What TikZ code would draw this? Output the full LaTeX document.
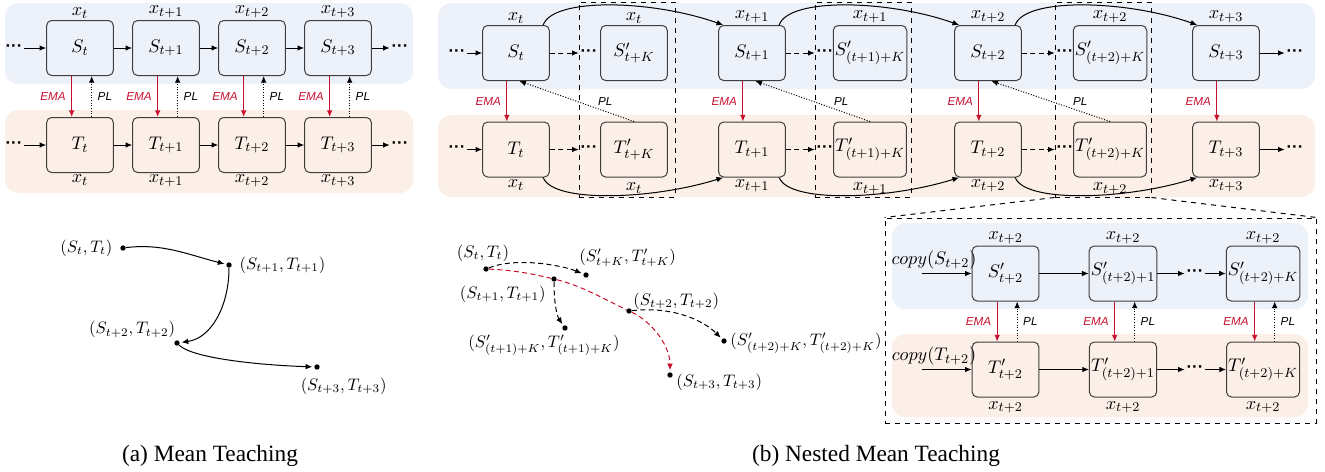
\documentclass[tikz,border=0pt]{standalone}
\usepackage{fontspec}
\setsansfont{Liberation Sans}
\newfontfamily\capfont{Liberation Serif}
\usetikzlibrary{positioning, arrows.meta, calc}
\definecolor{stubg}{HTML}{EDF1F9}
\definecolor{teabg}{HTML}{FCEFE7}
\definecolor{boxline}{HTML}{3F3F3F}
\definecolor{emared}{HTML}{C8102E}
\tikzset{
  stu/.style={draw=boxline, line width=0.6pt, rounded corners=3pt, fill=stubg, minimum width=40pt, minimum height=33pt, inner sep=1pt, font=\fontsize{11}{13}\selectfont},
  tea/.style={stu, fill=teabg},
  xlab/.style={inner sep=1pt, font=\fontsize{11}{13}\selectfont},
  arr/.style={-{Latex[length=4pt, width=3.4pt]}, line width=0.6pt},
  dasharr/.style={arr, densely dashed},
  ema/.style={arr, draw=emared},
  pl/.style={arr, densely dotted},
  emalab/.style={font=\sffamily\itshape\fontsize{7}{8}\selectfont, text=emared},
  pllab/.style={font=\sffamily\itshape\fontsize{7}{8}\selectfont},
  dts/.style={font=\sffamily\bfseries, inner sep=1pt},
  zoomframe/.style={draw, dashed, line width=0.6pt},
  pnt/.style={circle, fill, inner sep=0pt, minimum size=3.2pt},
  glab/.style={font=\fontsize{10.3}{12}\selectfont},
  caption/.style={font=\capfont\fontsize{14}{16}\selectfont},
}
\begin{document}
\begin{tikzpicture}[x=0.6pt, y=-0.6pt]
  \useasboundingbox (0,0) rectangle (1325,471);

  % (a) mean teaching: student row on blue, teacher row on orange
  \fill[stubg, rounded corners=8pt] (5,3) rectangle (413,84);
  \fill[teabg, rounded corners=8pt] (5,110) rectangle (413,193);
  \foreach \i/\x/\s in {0/80/t, 1/166/{t+1}, 2/252/{t+2}, 3/338/{t+3}} {
    \node[stu] (aS\i) at (\x,48) {$S_{\s}$};
    \node[tea] (aT\i) at (\x,145) {$T_{\s}$};
    \node[xlab, above=0pt of aS\i] (aSx\i) {$x_{\s}$};
    \node[xlab, below=0pt of aT\i] (aTx\i) {$x_{\s}$};
    \draw[ema] ([xshift=-5pt]aS\i.south) -- node[emalab, left] (aE\i) {EMA} ([xshift=-5pt]aT\i.north);
    \draw[pl] ([xshift=7pt]aT\i.north) -- node[pllab, right] (aP\i) {PL} ([xshift=7pt]aS\i.south);
  }
  \foreach \i [count=\j] in {0,1,2} {
    \draw[arr] (aS\i) -- (aS\j);
    \draw[arr] (aT\i) -- (aT\j);
  }
  \node[dts] (aSl) at (14,48) {···};
  \node[dts] (aTl) at (14,145) {···};
  \node[dts] (aSr) at (400,48) {···};
  \node[dts] (aTr) at (400,145) {···};
  \draw[arr] (aSl) -- (aS0);
  \draw[arr] (aTl) -- (aT0);
  \draw[arr] (aS3) -- (aSr);
  \draw[arr] (aT3) -- (aTr);

  % (a) trajectory of (S,T) pairs
  \node[pnt] (g0) at (123,248) {};
  \node[pnt] (g1) at (229,265) {};
  \node[pnt] (g2) at (177,343) {};
  \node[pnt] (g3) at (317,367) {};
  \node[left=1pt of g0] (g0l) {$(S_t,T_t)$};
  \node[right=1pt of g1] (g1l) {$(S_{t+1},T_{t+1})$};
  \node[anchor=south east, inner sep=1pt] (g2l) at (g2.north) {$(S_{t+2},T_{t+2})$};
  \node[below=1pt of g3, xshift=16pt] (g3l) {$(S_{t+3},T_{t+3})$};
  \draw[arr, shorten >=1pt] (g0) .. controls +(40,-5) and +(-40,-10) .. (g1);
  \draw[arr, shorten >=1pt] (g1) .. controls +(0,40) and +(35,-5) .. (g2);
  \draw[arr, shorten >=1pt] (g2) .. controls +(15,15) and +(-60,-2) .. (g3);

  % (b) nested mean teaching
  \fill[stubg, rounded corners=8pt] (438,3) rectangle (1315,89);
  \fill[teabg, rounded corners=8pt] (438,115) rectangle (1315,197);
  \foreach \i/\x/\s in {0/516/t, 1/752/{t+1}, 2/988/{t+2}, 3/1226/{t+3}} {
    \node[stu] (bS\i) at (\x,53) {$S_{\s}$};
    \node[tea] (bT\i) at (\x,149.5) {$T_{\s}$};
    \node[xlab, above=0pt of bS\i] (bSx\i) {$x_{\s}$};
    \node[xlab, below=0pt of bT\i] (bTx\i) {$x_{\s}$};
    \draw[ema] ([xshift=-5.5pt]bS\i.south) -- node[emalab, left] (bE\i) {EMA} ([xshift=-5.5pt]bT\i.north);
  }
  \foreach \i/\x/\s/\r in {0/634/{t+K}/t, 1/870/{(t+1)+K}/{t+1}, 2/1110/{(t+2)+K}/{t+2}} {
    \node[stu] (bSp\i) at (\x,53) {$S'_{\s}$};
    \node[tea] (bTp\i) at (\x,149.5) {$T'_{\s}$};
    \node[xlab, above=0pt of bSp\i] (bSpx\i) {$x_{\r}$};
    \node[xlab, below=2pt of bTp\i] (bTpx\i) {$x_{\r}$};
    \node[dts] (bSd\i) at ({\x-45},53) {···};
    \node[dts] (bTd\i) at ({\x-45},149.5) {···};
    \node[zoomframe, minimum width=57.6pt, minimum height=117pt] (bF\i) at ({\x-7},99.5) {};
    \draw[dasharr] (bS\i) -- (bSd\i);
    \draw[dasharr] (bT\i) -- (bTd\i);
    \draw[pl] (bTp\i.north) -- node[pllab, pos=0.25, above] (bP\i) {PL} ([xshift=2pt]bS\i.south);
  }
  \foreach \i [count=\j] in {0,1,2} {
    \draw[arr] ([xshift=-4pt]bS\i.north east) .. controls +(10,-28) and +(-70,-25) .. ([xshift=3pt]bS\j.north west);
    \draw[arr] ([xshift=-4pt]bT\i.south east) .. controls +(10,26) and +(-70,22) .. ([xshift=3pt]bT\j.south west);
  }
  \node[dts] (bSl) at (457,53) {···};
  \node[dts] (bTl) at (457,149.5) {···};
  \node[dts] (bSr) at (1295,53) {···};
  \node[dts] (bTr) at (1295,149.5) {···};
  \draw[arr] (bSl) -- (bS0);
  \draw[arr] (bTl) -- (bT0);
  \draw[arr] (bS3) -- (bSr);
  \draw[arr] (bT3) -- (bTr);

  % inner loop of the third window, zoomed
  \fill[stubg, rounded corners=8pt] (892,223) rectangle (1308,309);
  \fill[teabg, rounded corners=8pt] (892,334) rectangle (1308,417);
  \node[zoomframe, minimum width=258.6pt, minimum height=123pt] (inset) at (1100.5,320.5) {};
  \draw[dashed, line width=0.6pt] (bF2.south west) -- (inset.north west);
  \draw[dashed, line width=0.6pt] (bF2.south east) -- (inset.north east);
  \foreach \i/\x/\s in {0/1005.5/{t+2}, 1/1123/{(t+2)+1}, 2/1263/{(t+2)+K}} {
    \node[stu] (iS\i) at (\x,273.5) {$S'_{\s}$};
    \node[tea] (iT\i) at (\x,369.5) {$T'_{\s}$};
    \node[xlab, above=0pt of iS\i] (iSx\i) {$x_{t+2}$};
    \node[xlab, below=1pt of iT\i] (iTx\i) {$x_{t+2}$};
    \draw[ema] ([xshift=-5pt]iS\i.south) -- node[emalab, left] (iE\i) {EMA} ([xshift=-5pt]iT\i.north);
    \draw[pl] ([xshift=7pt]iT\i.north) -- node[pllab, right] (iP\i) {PL} ([xshift=7pt]iS\i.south);
  }
  \node[dts] (iSd) at (1195,273.5) {···};
  \node[dts] (iTd) at (1195,369.5) {···};
  \draw[arr] (iS0) -- (iS1);
  \draw[arr] (iT0) -- (iT1);
  \draw[arr] (iS1) -- (iSd);
  \draw[arr] (iT1) -- (iTd);
  \draw[arr] (iSd) -- (iS2);
  \draw[arr] (iTd) -- (iT2);
  \node[xlab] (cSl) at (934,260) {$copy(S_{t+2})$};
  \node[xlab] (cTl) at (934,356) {$copy(T_{t+2})$};
  \coordinate (cSin) at (922,273.5);
  \coordinate (cTin) at (922,369.5);
  \draw[arr] (cSin) -- (iS0);
  \draw[arr] (cTin) -- (iT0);

  % (b) trajectory with look-ahead branches
  \node[pnt] (m0) at (486,269) {};
  \node[pnt] (m1) at (554,279) {};
  \node[pnt] (m2) at (629,311) {};
  \node[pnt] (m3) at (670,375) {};
  \node[pnt] (mk0) at (586,275) {};
  \node[pnt] (mk1) at (565,328) {};
  \node[pnt] (mk2) at (724,341) {};
  \node[glab] (m0l) at (483,253) {$(S_t,T_t)$};
  \node[glab, anchor=west, inner sep=0pt] (mk0l) at (579,258) {$(S'_{t+K},T'_{t+K})$};
  \node[glab, anchor=east, inner sep=0pt] (m1l) at (546,294) {$(S_{t+1},T_{t+1})$};
  \node[glab] (mk1l) at (544,345) {$(S'_{(t+1)+K},T'_{(t+1)+K})$};
  \node[glab, anchor=west, inner sep=0pt] (m2l) at (633,301) {$(S_{t+2},T_{t+2})$};
  \node[glab, anchor=west, inner sep=0pt] (mk2l) at (730,343) {$(S'_{(t+2)+K},T'_{(t+2)+K})$};
  \node[glab, anchor=west, inner sep=0pt] (m3l) at (676,382) {$(S_{t+3},T_{t+3})$};
  \draw[dasharr, draw=emared, shorten >=1pt] (m0) .. controls +(25,1) and +(-25,-6) .. (m1)
    .. controls +(28,7) and +(-25,-12) .. (m2) .. controls +(22,10) and +(0,-30) .. (m3);
  \draw[dasharr, shorten >=1pt] (m0) .. controls +(30,-12) and +(-25,-10) .. (mk0);
  \draw[dasharr, shorten >=1pt] (m1) .. controls +(0,25) and +(-8,-12) .. (mk1);
  \draw[dasharr, shorten >=1pt] (m2) .. controls +(45,-5) and +(-20,-20) .. (mk2);

  % captions
  \node[caption] (capa) at (210,456) {(a) Mean Teaching};
  \node[caption] (capb) at (876,456) {(b) Nested Mean Teaching};
\end{tikzpicture}
\end{document}
